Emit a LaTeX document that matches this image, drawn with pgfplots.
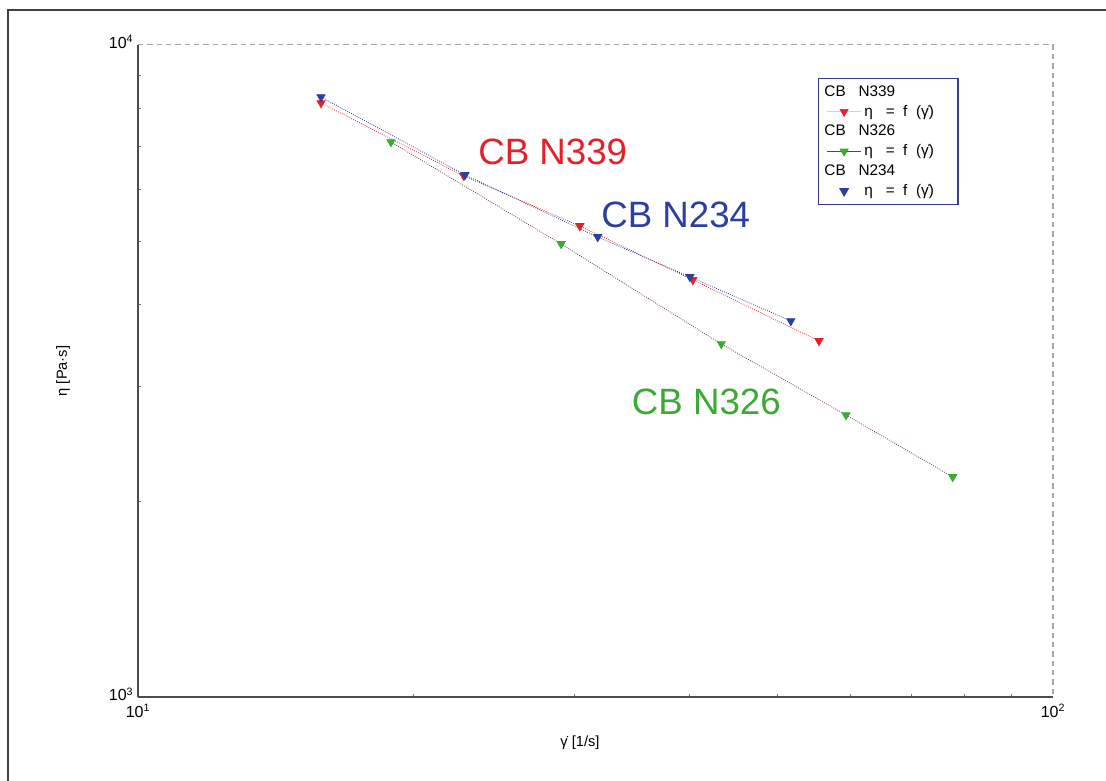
\documentclass[border=0pt]{standalone}
\usepackage{fontspec}
\setmainfont{Liberation Sans}
\usepackage{pgfplots}
\pgfplotsset{compat=1.18}
\definecolor{cbred}{HTML}{E4202A}
\definecolor{cbblue}{HTML}{2B3F9E}
\definecolor{cbgreen}{HTML}{3AAA35}
\definecolor{cbnavy}{HTML}{3A3A8A}
\definecolor{darkline}{rgb}{0.42,0.22,0.22}
\begin{document}
\begin{tikzpicture}
\useasboundingbox (-103.5pt,-63pt) rectangle (726pt,522.75pt);
\begin{axis}[
  at={(0pt,0pt)}, anchor=south west,
  xmode=log, ymode=log,
  xmin=10, xmax=100, ymin=1000, ymax=10000,
  scale only axis, width=686.25pt, height=489pt,
  axis x line*=bottom, axis y line*=left,
  axis line style={draw=black!70, line width=0.8pt},
  xtick={10,100}, xticklabels={10\textsuperscript{1},10\textsuperscript{2}},
  ytick={1000,10000}, yticklabels={10\textsuperscript{3},10\textsuperscript{4}},
  major tick length=0pt, minor tick length=2pt,
  tick style={black!55}, tick align=inside,
  ticklabel style={font=\fontsize{12}{14}\selectfont},
  xticklabel style={yshift=-2pt},
  yticklabel style={yshift=2pt},
  xlabel={γ̇ [1/s]}, ylabel={η [Pa·s]},
  label style={font=\fontsize{11}{13}\selectfont},
  xlabel style={at={(axis description cs:0.483,-0.0706)}, anchor=center},
  ylabel style={at={(axis description cs:-0.082,0.5)}, anchor=center},
  clip=false,
  legend cell align=left,
  legend style={at={(0.743,0.949)}, anchor=north west, draw=cbnavy, line width=0.9pt,
    font=\fontsize{11.5}{12.5}\selectfont, row sep=1.2pt, inner xsep=6pt, inner ysep=3pt},
  legend image code/.code={\draw[mark repeat=2,mark phase=2,#1] plot coordinates {(0pt,0pt) (13pt,0pt) (26pt,0pt)};},
]
\draw[black!35, dashed, dash pattern=on 4pt off 3pt, line width=0.8pt]
  (rel axis cs:0,1) -- (rel axis cs:1,1) -- (rel axis cs:1,0);

\addlegendimage{empty legend}
\addlegendentry{\hspace*{-30pt}CB\ \ \ N339}
\addlegendimage{red!25, line width=0.5pt, mark=triangle*, mark size=3.5pt, mark options={rotate=180, fill=cbred, draw=cbred, solid}}
\addlegendentry{η\ \ \ =\ \ f\ \ (γ̇)\hspace*{10pt}}
\addlegendimage{empty legend}
\addlegendentry{\hspace*{-30pt}CB\ \ \ N326}
\addlegendimage{black!70, line width=0.5pt, mark=triangle*, mark size=3.5pt, mark options={rotate=180, fill=cbgreen, draw=cbgreen, solid}}
\addlegendentry{η\ \ \ =\ \ f\ \ (γ̇)\hspace*{10pt}}
\addlegendimage{empty legend}
\addlegendentry{\hspace*{-30pt}CB\ \ \ N234}
\addlegendimage{only marks, mark=triangle*, mark size=3.5pt, mark options={rotate=180, fill=cbblue, draw=cbblue, solid}}
\addlegendentry{η\ \ \ =\ \ f\ \ (γ̇)\hspace*{10pt}}

% CB N326 (green)
\addplot[forget plot, darkline, line width=0.6pt, densely dotted, mark=triangle*, mark size=3.5pt,
  mark options={rotate=180, fill=cbgreen, draw=cbgreen, solid}]
  coordinates {(18.9,7099) (29.0,4952) (43.4,3479) (59.4,2707) (77.7,2175)};
% CB N339 (red)
\addplot[forget plot, cbred, line width=0.6pt, densely dotted, mark=triangle*, mark size=3.5pt,
  mark options={rotate=180, fill=cbred, draw=cbred, solid}]
  coordinates {(15.85,8147) (22.7,6297) (30.4,5277) (40.4,4362) (55.5,3516)};
% CB N234 (blue)
\addplot[forget plot, cbblue, line width=0.6pt, densely dotted, mark=triangle*, mark size=3.5pt,
  mark options={rotate=180, fill=cbblue, draw=cbblue, solid}]
  coordinates {(15.85,8322) (22.77,6320) (31.8,5076) (40.1,4409) (51.7,3773)};

\node[text=cbred, font=\fontsize{27.5}{30}\selectfont] at (axis cs:28.4,6853) {CB N339};
\node[text=cbblue, font=\fontsize{27.5}{30}\selectfont] at (axis cs:38.7,5487) {CB N234};
\node[text=cbgreen, font=\fontsize{27.5}{30}\selectfont] at (axis cs:41.8,2835) {CB N326};
\end{axis}
\draw[black!75, line width=1pt] (726pt,515.25pt) -- (-97.5pt,515.25pt) -- (-97.5pt,-63pt);
\end{tikzpicture}
\end{document}
